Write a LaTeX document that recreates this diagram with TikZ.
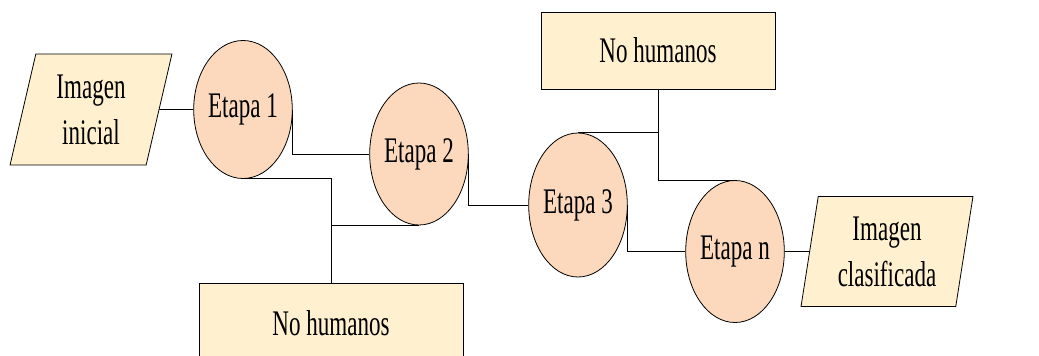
\documentclass[tikz,border=0pt]{standalone}
\usepackage{fontspec}
\setmainfont{Liberation Serif}[FakeStretch=0.64]
\usepackage{tikz}
\usetikzlibrary{shapes.geometric}

\definecolor{etapafill}{HTML}{FCD9BD}
\definecolor{cajafill}{HTML}{FFF0CF}

\tikzset{
  etapa/.style={draw, ellipse, fill=etapafill, inner sep=0pt},
  caja/.style={draw, rectangle, fill=cajafill, inner sep=0pt},
  imagen/.style={draw, trapezium, trapezium stretches=true, fill=cajafill, inner sep=0pt, align=center},
  linea/.style={line width=0.9pt}
}

\begin{document}
\begin{tikzpicture}[x=1pt, y=-1pt, font=\fontsize{36}{46}\selectfont, line width=0.8pt]
    \useasboundingbox (0,0) rectangle (1039,356);
    % entradas y salidas
    \node[imagen, trapezium left angle=77, trapezium right angle=103, minimum width=162pt, minimum height=111pt] (ini) at (91,109.5) {Imagen\\inicial};
    \node[imagen, trapezium left angle=80, trapezium right angle=100, minimum width=172pt, minimum height=110pt] (fin) at (887,251.5) {Imagen\\clasificada};
    % etapas
    \node[etapa, minimum width=88pt, minimum height=138pt] (e1) at (243,109.5) {Etapa 1};
    \node[etapa, minimum width=88pt, minimum height=142pt] (e2) at (419,154) {Etapa 2};
    \node[etapa, minimum width=77pt, minimum height=144pt] (e3) at (578,205) {Etapa 3};
    \node[etapa, minimum width=77pt, minimum height=142pt] (en) at (735,251.5) {Etapa n};
    % no humanos
    \node[caja, minimum width=264pt, minimum height=80pt] (nh1) at (331,323) {No humanos};
    \node[caja, minimum width=234pt, minimum height=77pt] (nh2) at (658,50.5) {No humanos};
    % conexiones
    \draw[linea] (ini) -- (e1);
    \draw[linea] (e1.east) |- (e2.west);
    \draw[linea] (e2.east) |- (e3.west);
    \draw[linea] (e3.east) |- (en.west);
    \draw[linea] (en) -- (fin);
    \draw[linea] (e1.south) -| (nh1.north);
    \draw[linea] (e2.south) -| (nh1.north);
    \draw[linea] (e3.north) -| (nh2.south);
    \draw[linea] (nh2.south) |- (en.north);
  \end{tikzpicture}
\end{document}
